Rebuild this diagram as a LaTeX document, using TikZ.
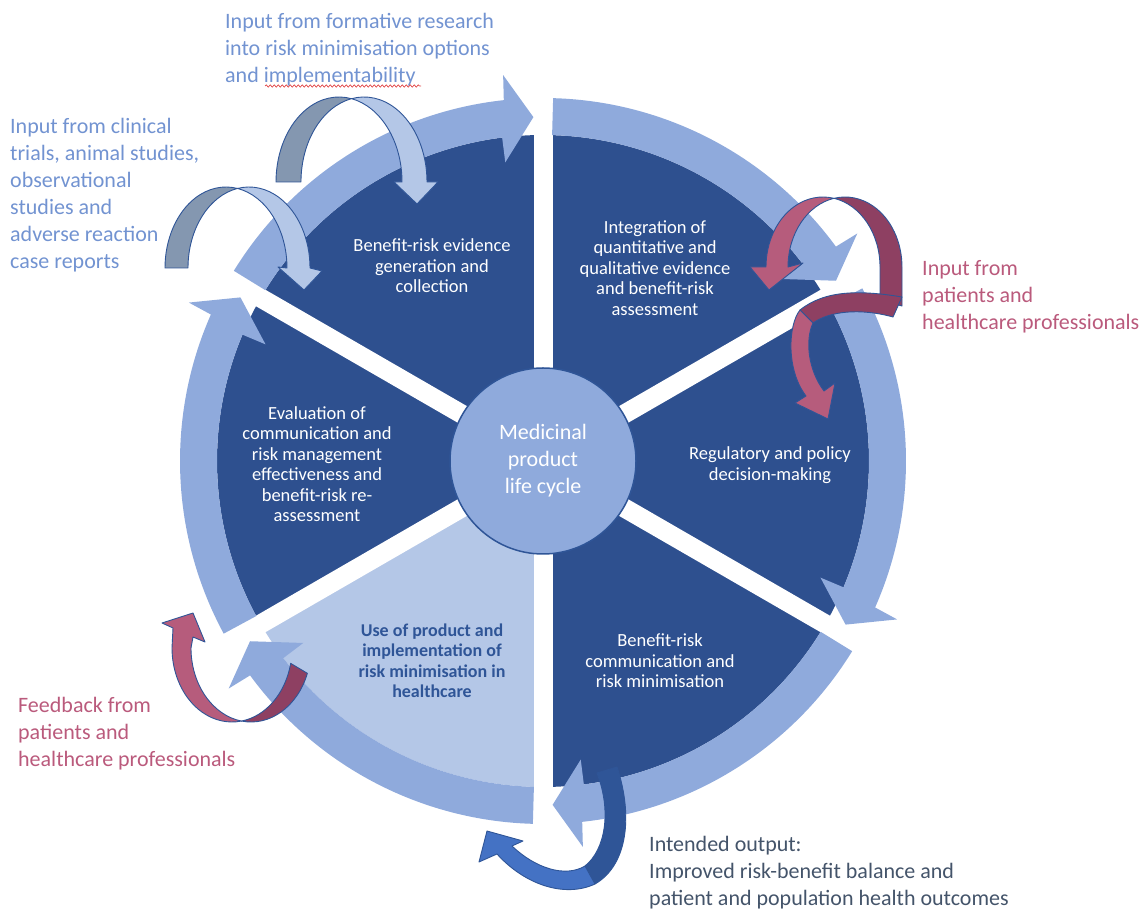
\documentclass[tikz,border=0pt]{standalone}
\usepackage{fontspec}
\setmainfont{Carlito}
\usetikzlibrary{calc}
\usetikzlibrary{decorations.pathmorphing}
\definecolor{sectordark}{RGB}{46,80,143}
\definecolor{sectorlight}{RGB}{180,199,231}
\definecolor{ringblue}{RGB}{143,170,220}
\definecolor{hubline}{RGB}{47,85,151}
\definecolor{inputblue}{RGB}{114,147,209}
\definecolor{inputred}{RGB}{186,90,124}
\definecolor{outputgrey}{RGB}{68,84,106}
\definecolor{usetext}{RGB}{47,85,151}
\definecolor{ribbonline}{RGB}{47,85,151}
\definecolor{greyback}{RGB}{132,151,176}
\definecolor{greyfront}{RGB}{180,199,231}
\definecolor{redback}{RGB}{142,64,98}
\definecolor{redfront}{RGB}{182,92,124}
\definecolor{blueback}{RGB}{47,85,151}
\definecolor{bluefront}{RGB}{68,114,196}
\definecolor{spellred}{RGB}{225,70,70}
\newcommand{\piesector}[3]{\fill[#3] (0,0) -- (#1:326) arc[start angle=#1, end angle=#2, radius=326pt] -- cycle;}
\newcommand{\ringarrow}[1]{\fill[ringblue] (#1+58.4:363) arc[start angle=#1+58.4, end angle=#1+6.2, radius=363pt] -- (#1+5.9:388) -- (#1+1.6:344) -- (#1+7.2:301) -- (#1+7.2:326) arc[start angle=#1+7.2, end angle=#1+58.4, radius=326pt] -- cycle;}
\tikzset{
  ribbon/.style={draw=ribbonline, line width=0.9pt, line join=round},
  sectortext/.style={align=center, text=white, inner sep=0pt, font=\fontsize{18.5}{20.5}\selectfont},
  outertext/.style={align=left, anchor=north west, inner sep=0pt, font=\fontsize{22}{27}\selectfont},
  hub/.style={circle, fill=ringblue, draw=hubline, line width=1.5pt, minimum size=186pt, inner sep=0pt, align=center, text=white, font=\fontsize{22}{27}\selectfont},
  squiggle/.style={draw=spellred, line width=0.7pt, decorate, decoration={snake, amplitude=1.1pt, segment length=4pt}}
}
\begin{document}
\begin{tikzpicture}[x=1pt,y=1pt]
\useasboundingbox (0,0) rectangle (1146,913);

% pie
\begin{scope}[shift={(543,452)}]
  % sectors
  \piesector{90}{150}{sectordark}
  \piesector{30}{90}{sectordark}
  \piesector{-30}{30}{sectordark}
  \piesector{-90}{-30}{sectordark}
  \piesector{-150}{-90}{sectorlight}
  \piesector{150}{210}{sectordark}
  % spokes
  \foreach \a in {90,30,-30,-90,-150,-210}
    \draw[white, line width=19pt] (0,0) -- (\a:332);
  % ring arrows, clockwise
  \foreach \e in {90,30,-30,-90,-150,-210}
    {\ringarrow{\e}}
\end{scope}

\node[hub] (hub) at (543,452) {Medicinal\\product\\life cycle};

% stages
\node[sectortext] (collect) at (432,647) {Benefit-risk evidence\\generation and\\collection};
\node[sectortext] (assess) at (655,645) {Integration of\\quantitative and\\qualitative evidence\\and benefit-risk\\assessment};
\node[sectortext] (decide) at (770,448) {Regulatory and policy\\decision-making};
\node[sectortext] (communicate) at (660,252) {Benefit-risk\\communication and\\risk minimisation};
\node[sectortext, text=usetext, font=\bfseries\fontsize{18}{20.5}\selectfont] (use) at (432,252) {Use of product and\\implementation of\\risk minimisation in\\healthcare};
\node[sectortext] (evaluate) at (317,449) {Evaluation of\\communication and\\risk management\\effectiveness and\\benefit-risk re-\\assessment};

% inputs and outputs
\node[outertext, text=inputblue] (formative) at (225,900) {Input from formative research\\into risk minimisation options\\and implementability};
\draw[squiggle] (265,827) -- (421,827);
\node[outertext, text=inputblue] (clinical) at (10,795) {Input from clinical\\trials, animal studies,\\observational\\studies and\\adverse reaction\\case reports};
\node[outertext, text=inputred] (patientsin) at (922,653) {Input from\\patients and\\healthcare professionals};
\node[outertext, text=inputred] (feedback) at (18,216) {Feedback from\\patients and\\healthcare professionals};
\node[outertext, text=outputgrey] (output) at (649,77) {Intended output:\\Improved risk-benefit balance and\\patient and population health outcomes};

% formative research arrow
\draw[ribbon, fill=greyback] (276,731) arc[start angle=180, end angle=78.56, x radius=63pt, y radius=85pt] arc[start angle=101.44, end angle=180, x radius=63pt, y radius=85pt] -- cycle;
\draw[ribbon, fill=greyfront] (427,731) arc[start angle=0, end angle=101.44, x radius=63pt, y radius=85pt] arc[start angle=78.56, end angle=0, x radius=63pt, y radius=85pt] -- (394,731) -- (417,709) -- (438,731) -- cycle;

% clinical arrow
\draw[ribbon, fill=greyback] (165,645) arc[start angle=180, end angle=79.13, x radius=61pt, y radius=81pt] arc[start angle=100.87, end angle=180, x radius=61pt, y radius=81pt] -- cycle;
\draw[ribbon, fill=greyfront] (310,645) arc[start angle=0, end angle=100.87, x radius=61pt, y radius=81pt] arc[start angle=79.13, end angle=0, x radius=61pt, y radius=81pt] -- (278,646) -- (304,623) -- (322,642) -- cycle;

% patients arrows
\draw[ribbon, fill=redback] (902,646) arc[start angle=0, end angle=101.13, x radius=57pt, y radius=70pt] arc[start angle=78.87, end angle=0, x radius=57pt, y radius=70pt] -- (880,613) -- (902,607) -- cycle;
\draw[ribbon, fill=redfront] (766,646) arc[start angle=180, end angle=78.87, x radius=57pt, y radius=70pt] arc[start angle=101.13, end angle=180, x radius=57pt, y radius=70pt] -- (803,650) -- (769,623) -- (750,646) -- cycle;
\draw[ribbon, fill=redback] (902,616) .. controls (860,623) and (825,623) .. (800,603) -- (813,590) .. controls (830,602) and (860,605) .. (893,596) -- cycle;
\draw[ribbon, fill=redfront] (800,603) .. controls (788,588) and (786,543) .. (806,517) -- (795,510) -- (828,494) -- (835,530) -- (824,522) .. controls (808,543) and (805,573) .. (813,590) -- cycle;

% feedback arrow
\draw[ribbon, fill=redback] ([shift={(-20:60 and 74)}]251,265) arc[start angle=-20, end angle=-99.11, x radius=60pt, y radius=74pt] arc[start angle=-80.89, end angle=-12, x radius=60pt, y radius=74pt] -- cycle;
\draw[ribbon, fill=redfront] (173,285) -- (172,265) arc[start angle=180, end angle=279.11, x radius=60pt, y radius=74pt] arc[start angle=260.89, end angle=180, x radius=60pt, y radius=74pt] -- (193,276) -- (205,271) -- (193,300) -- (162,290) -- cycle;

% output arrow
\draw[ribbon, fill=blueback] (597,140) -- (617,146) .. controls (633,98) and (628,48) .. (595,29) -- (585,47) .. controls (605,63) and (612,101) .. (597,140) -- cycle;
\draw[ribbon, fill=bluefront] (595,29) .. controls (565,15) and (525,28) .. (497,59) -- (479,51) -- (487,82) -- (523,72) -- (512,67) .. controls (535,45) and (565,35) .. (585,47) -- cycle;
\end{tikzpicture}
\end{document}
